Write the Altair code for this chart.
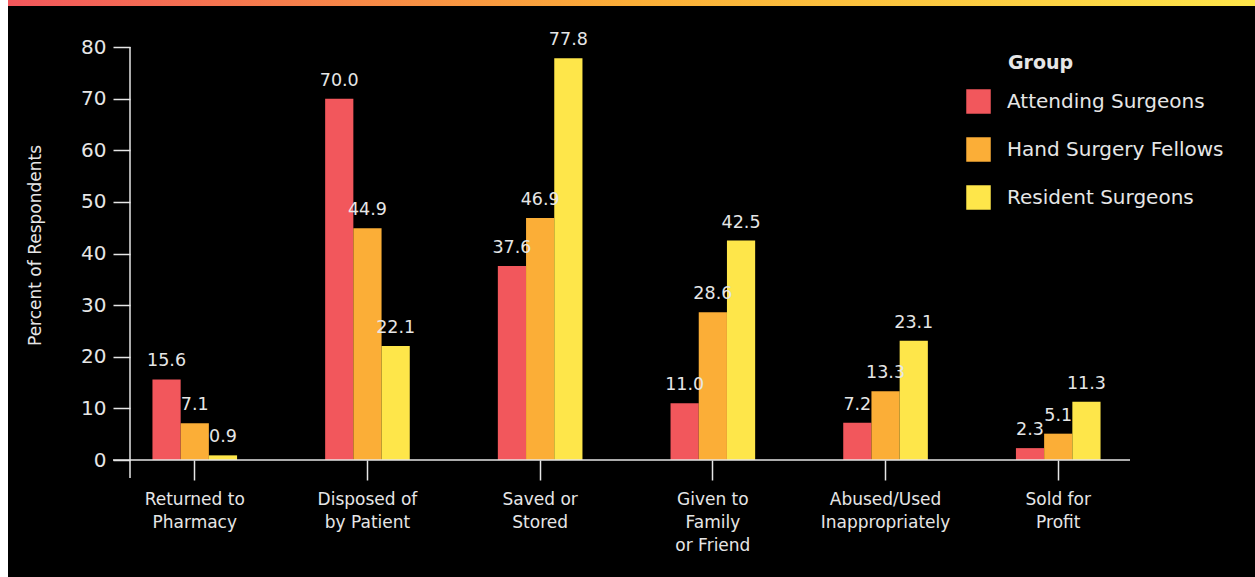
import altair as alt
import pandas as pd

categories = ["Returned to|Pharmacy", "Disposed of|by Patient", "Saved or|Stored",
              "Given to|Family|or Friend", "Abused/Used|Inappropriately", "Sold for|Profit"]
groups = ["Attending Surgeons", "Hand Surgery Fellows", "Resident Surgeons"]
attending = [15.6, 70.0, 37.6, 11.0, 7.2, 2.3]
fellows = [7.1, 44.9, 46.9, 28.6, 13.3, 5.1]
residents = [0.9, 22.1, 77.8, 42.5, 23.1, 11.3]
colors = ["#F2575C", "#FBAE37", "#FEE64A"]

rows = []
for g, vals in zip(groups, [attending, fellows, residents]):
    for c, v in zip(categories, vals):
        rows.append({"category": c, "group": g, "value": v})
df = pd.DataFrame(rows)

FONT = "DejaVu Sans"
TXT = "#E6E6E6"
W, H = 993, 413

base = alt.Chart(df).encode(
    x=alt.X("category:N", sort=categories,
            scale=alt.Scale(paddingInner=0.51, paddingOuter=0.13),
            axis=alt.Axis(title=None, labelAngle=0, domain=False, tickSize=20,
                          tickColor=TXT, tickWidth=1.5, labelColor=TXT,
                          labelFont=FONT, labelFontSize=17, labelPadding=11,
                          labelLineHeight=23,
                          labelExpr="split(datum.label, '|')")),
    xOffset=alt.XOffset("group:N", sort=groups),
    y=alt.Y("value:Q", scale=alt.Scale(domain=[0, 80], nice=False),
            axis=alt.Axis(title="Percent of Respondents", values=list(range(0, 81, 10)),
                          domain=False, tickSize=17, tickColor=TXT, tickWidth=1.5,
                          labelColor=TXT, labelFont=FONT, labelFontSize=20,
                          labelPadding=7, grid=False,
                          titleColor=TXT, titleFont=FONT, titleFontSize=17,
                          titleFontWeight="normal", titleX=-95, titleY=198,
                          titleAlign="center", titleBaseline="middle")),
)

bars = base.mark_bar().encode(
    color=alt.Color("group:N", sort=groups,
                    scale=alt.Scale(domain=groups, range=colors),
                    legend=alt.Legend(title=None, orient="none", legendX=836, legendY=42,
                                      symbolType="square", symbolSize=600,
                                      symbolStrokeWidth=0, symbolOpacity=1,
                                      labelFont=FONT, labelFontSize=20, labelColor=TXT,
                                      labelLimit=0, labelOffset=16, rowPadding=23))
)

labels = base.mark_text(baseline="bottom", dy=-9, font=FONT, fontSize=17.5,
                        color=TXT).encode(
    text=alt.Text("value:Q", format=".1f"))

one = pd.DataFrame({"a": [0]})
yline = alt.Chart(one).mark_rule(color=TXT, strokeWidth=1.5).encode(
    x=alt.value(0), y=alt.value(0), y2=alt.value(431))
xline = alt.Chart(one).mark_rule(color=TXT, strokeWidth=1.5).encode(
    x=alt.value(-17), x2=alt.value(1000), y=alt.value(H))
strip = alt.Chart(one).mark_rect(color="white").encode(
    x=alt.value(-130), x2=alt.value(-122), y=alt.value(-47), y2=alt.value(540))
grad = alt.Chart(one).mark_rect(
    color=alt.LinearGradient(gradient="linear", x1=0, x2=1, y1=0, y2=0,
                             stops=[alt.GradientStop(color="#F2575C", offset=0),
                                    alt.GradientStop(color="#FBAE37", offset=0.5),
                                    alt.GradientStop(color="#FEE64A", offset=1)])
).encode(x=alt.value(-122), x2=alt.value(1125), y=alt.value(-47), y2=alt.value(-41))
title = alt.Chart(one).mark_text(text="Group", align="left", baseline="middle",
                                 font=FONT, fontSize=19, fontWeight=600, color=TXT).encode(
    x=alt.value(878), y=alt.value(16))

chart = alt.layer(strip, grad, bars, labels, yline, xline, title).properties(
    width=W, height=H,
    background="black",
    padding={"left": 130, "top": 47, "right": 132, "bottom": 117},
    autosize=alt.AutoSizeParams(type="none"),
).configure_view(stroke=None)

chart.save("out.html", embed_options={"renderer": "svg", "actions": False})
